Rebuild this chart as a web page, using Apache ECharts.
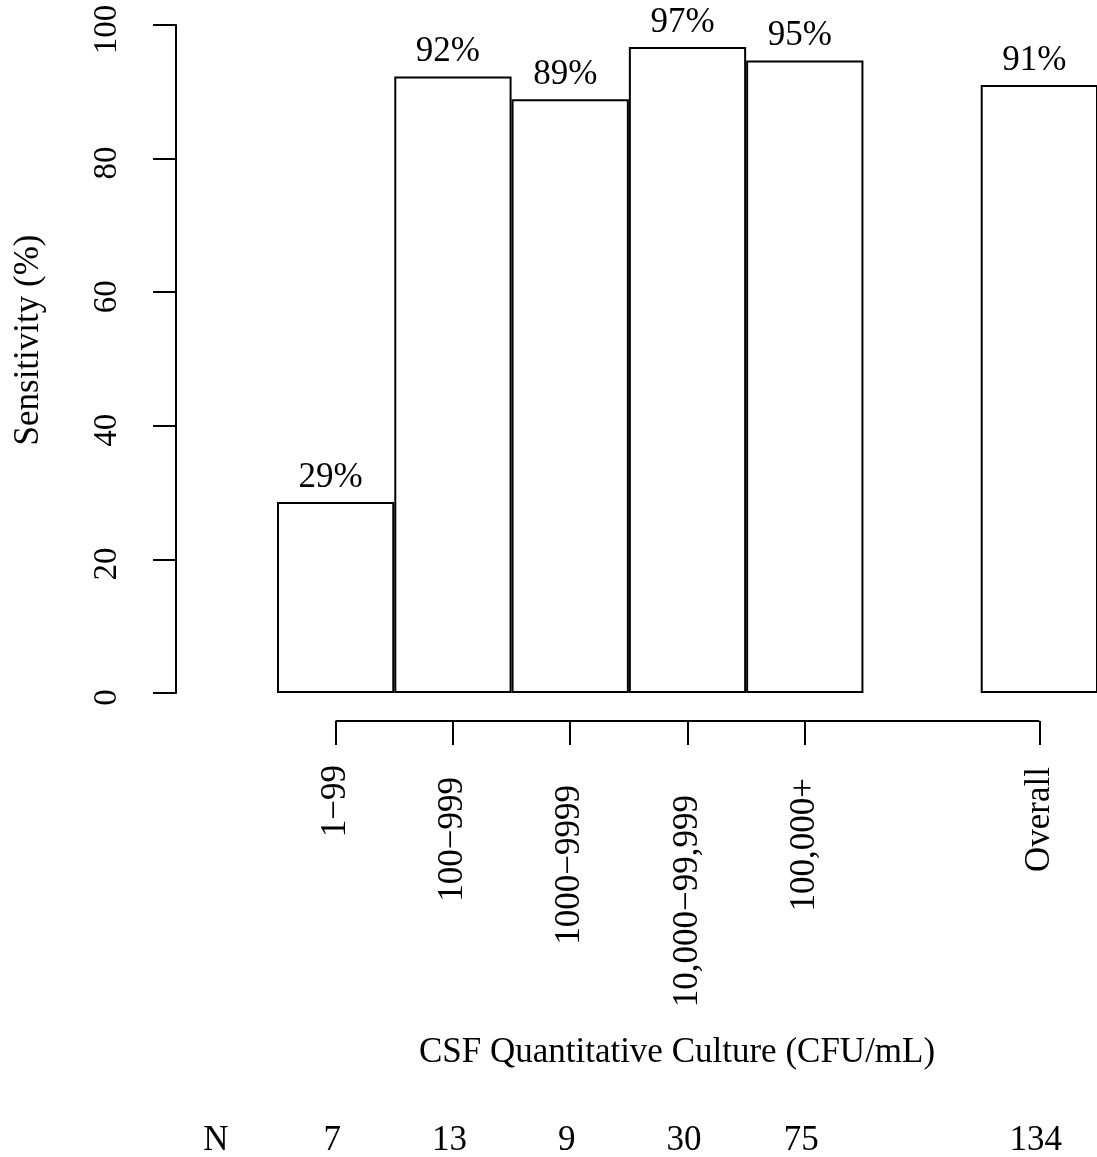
<!DOCTYPE html>
<html>
<head>
<meta charset="utf-8">
<script src="https://cdn.jsdelivr.net/npm/echarts@6/dist/echarts.min.js"></script>
<style>
  html, body { margin: 0; padding: 0; background: #fff; }
  #chart { width: 1097px; height: 1157px; }
</style>
</head>
<body>
<div id="chart"></div>
<script>
// categories (empty slot keeps the gap before "Overall")
var categories = ['1\u221299', '100\u2212999', '1000\u22129999', '10,000\u221299,999', '100,000+', '', 'Overall'];
// sensitivity in %
var sensitivity = [28.6, 92.3, 88.9, 96.7, 94.7, null, 91.0];
// number of patients per group
var nCounts = ['7', '13', '9', '30', '75', '', '134'];
var yMin = 0, yMax = 100, yStep = 20;

var font = 'Liberation Serif';
var fs = 35;

// the original rotated labels do not all end at the same distance from the ticks
var labelShift = [0, 12, 20, 30, 13, 0, 2];
var catRich = {};
labelShift.forEach(function (s, i) {
    catRich['s' + i] = { fontFamily: font, fontSize: fs, color: '#000', padding: [0, s, 0, 0] };
});

window.onload = function () {
    var myChart = echarts.init(document.getElementById('chart'));

    var option = {
        animation: false,
        backgroundColor: '#fff',
        textStyle: { fontFamily: font, color: '#000' },
        grid: { left: 277, right: -1, top: 25, bottom: 464, containLabel: false, outerBoundsMode: 'none' },
        xAxis: [
            {
                type: 'category',
                data: categories,
                position: 'bottom',
                offset: 28,
                axisLine: { show: false, onZero: false },
                axisTick: {
                    show: true,
                    alignWithLabel: true,
                    length: 24,
                    interval: function (i, v) { return v !== ''; },
                    lineStyle: { color: '#000', width: 2 }
                },
                axisLabel: {
                    rotate: 90,
                    margin: 44,
                    interval: 0,
                    fontFamily: font,
                    fontSize: fs,
                    color: '#000',
                    formatter: function (v, i) { return v === '' ? '' : '{s' + i + '|' + v + '}'; },
                    rich: catRich
                },
                name: 'CSF Quantitative Culture (CFU/mL)',
                nameLocation: 'middle',
                nameGap: 314,
                nameTextStyle: { fontFamily: font, fontSize: fs, color: '#000', padding: [0, 21, 0, 0] }
            },
            {
                type: 'category',
                data: nCounts,
                position: 'bottom',
                offset: 0,
                axisLine: { show: false, onZero: false },
                axisTick: { show: false },
                axisLabel: {
                    margin: 430,
                    interval: 0,
                    fontFamily: font,
                    fontSize: fs,
                    color: '#000',
                    padding: [0, 7, 0, 0]
                }
            }
        ],
        yAxis: {
            type: 'value',
            min: yMin,
            max: yMax,
            interval: yStep,
            offset: 101,
            splitLine: { show: false },
            axisLine: { show: true, onZero: false, lineStyle: { color: '#000', width: 2 } },
            axisTick: { show: true, length: 23, lineStyle: { color: '#000', width: 2 } },
            axisLabel: { rotate: 90, margin: 52, fontFamily: font, fontSize: 33, color: '#000', padding: [0, 9, 0, 0] },
            name: 'Sensitivity (%)',
            nameLocation: 'middle',
            nameGap: 130,
            nameTextStyle: { fontFamily: font, fontSize: fs, color: '#000', padding: [0, 0, 0, 38] }
        },
        graphic: [
            {
                type: 'text',
                x: 216,
                y: 1141,
                style: {
                    text: 'N',
                    font: fs + 'px "' + font + '"',
                    fill: '#000',
                    align: 'center',
                    verticalAlign: 'middle'
                }
            }
        ],
        series: [
            {
                type: 'bar',
                data: sensitivity,
                barCategoryGap: '0%',
                itemStyle: { color: '#fff', borderColor: '#000', borderWidth: 2 },
                label: {
                    show: true,
                    position: 'top',
                    distance: 7,
                    offset: [-5, 0],
                    fontFamily: font,
                    fontSize: fs,
                    color: '#000',
                    formatter: function (p) { return Math.round(p.value) + '%'; }
                },
                silent: true
            },
            {
                // horizontal axis line running from the first to the last tick
                type: 'custom',
                silent: true,
                clip: false,
                data: [[0, 0]],
                renderItem: function (params, api) {
                    var start = api.coord([0, 0]);
                    var end = api.coord([categories.length - 1, 0]);
                    return {
                        type: 'line',
                        shape: { x1: start[0], y1: start[1] + 28, x2: end[0], y2: end[1] + 28 },
                        style: { stroke: '#000', lineWidth: 2 }
                    };
                }
            }
        ]
    };

    myChart.setOption(option);
};
</script>
</body>
</html>
